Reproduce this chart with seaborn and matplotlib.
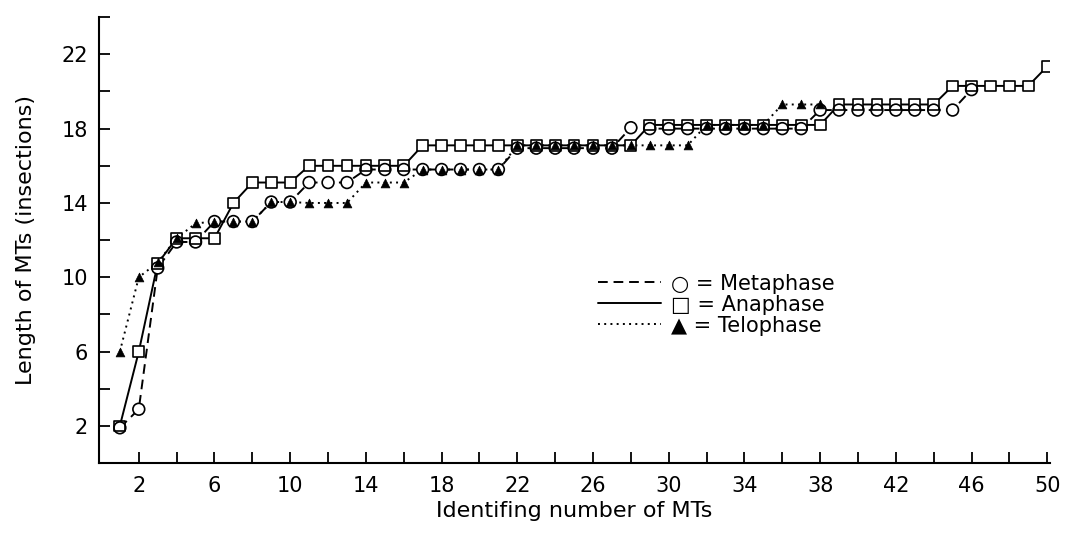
import matplotlib
matplotlib.use("Agg")
import matplotlib.pyplot as plt
import seaborn as sns
import pandas as pd
from matplotlib.lines import Line2D
from matplotlib.ticker import FixedLocator

# ---------------- data ----------------
metaphase = [1.9, 2.9, 10.5, 11.9, 11.9, 13.0, 13.0, 13.0, 14.05, 14.05,
             15.1, 15.1, 15.1, 15.8, 15.8, 15.8, 15.8, 15.8, 15.8, 15.8,
             15.8, 16.95, 16.95, 16.95, 16.95, 16.95, 16.95, 18.05, 18.0, 18.0,
             18.0, 18.0, 18.0, 18.0, 18.0, 18.0, 18.0, 19.0, 19.0, 19.0,
             19.0, 19.0, 19.0, 19.0, 19.0, 20.1]
anaphase = [2.0, 6.0, 10.75, 12.1, 12.1, 12.1, 14.0, 15.1, 15.1, 15.1,
            16.0, 16.0, 16.0, 16.0, 16.0, 16.0, 17.1, 17.1, 17.1, 17.1,
            17.1, 17.1, 17.1, 17.1, 17.1, 17.1, 17.1, 17.1, 18.2, 18.2,
            18.2, 18.2, 18.2, 18.2, 18.2, 18.2, 18.2, 18.2, 19.3, 19.3,
            19.3, 19.3, 19.3, 19.3, 20.3, 20.3, 20.3, 20.3, 20.3, 21.35]
telophase = [6.0, 10.0, 10.8, 12.1, 12.9, 13.0, 13.0, 13.0, 14.05, 14.05,
             14.0, 14.0, 14.0, 15.1, 15.1, 15.1, 15.8, 15.8, 15.8, 15.8,
             15.8, 17.1, 17.1, 17.1, 17.1, 17.1, 17.1, 17.1, 17.1, 17.1,
             17.1, 18.2, 18.2, 18.2, 18.2, 19.3, 19.3, 19.3]

x_ticks_labeled = [2, 6, 10, 14, 18, 22, 26, 30, 34, 38, 42, 46, 50]
x_ticks_minor = [4, 8, 12, 16, 20, 24, 28, 32, 36, 40, 44, 48]
y_ticks_labeled = [2, 6, 10, 14, 18, 22]
y_ticks_minor = [4, 8, 12, 16, 20, 24]

series = {"Metaphase": metaphase, "Anaphase": anaphase, "Telophase": telophase}
frames = []
for name, vals in series.items():
    frames.append(pd.DataFrame({"mt": list(range(1, len(vals) + 1)),
                                "length": vals, "phase": name}))
df = pd.concat(frames, ignore_index=True)

# ---------------- style ----------------
sns.set_theme(style="ticks")
plt.rcParams["font.family"] = ["DejaVu Sans"]

fig = plt.figure(figsize=(10.65, 5.36), dpi=100)
ax = fig.add_axes([0.093, 0.136, 0.893, 0.832])

line_styles = {
    "Metaphase": dict(linestyle=(0, (5, 3)), linewidth=1.4),
    "Anaphase": dict(linestyle="-", linewidth=1.4),
    "Telophase": dict(linestyle=(0, (1, 2.2)), linewidth=1.4),
}
for name in series:
    sub = df[df.phase == name]
    sns.lineplot(data=sub, x="mt", y="length", ax=ax, color="black",
                 estimator=None, sort=False, legend=False, zorder=1,
                 **line_styles[name])

ms = {"Metaphase": ("o", 72), "Anaphase": ("s", 60), "Telophase": ("^", 40)}
# white masks so lines stop at marker edges
for name in ["Metaphase", "Anaphase"]:
    sub = df[df.phase == name]
    m, s = ms[name]
    sns.scatterplot(data=sub, x="mt", y="length", ax=ax, marker=m, s=s,
                    color="white", edgecolor="none", linewidth=0, zorder=2,
                    legend=False)
# open outlines
for name in ["Metaphase", "Anaphase"]:
    sub = df[df.phase == name]
    m, s = ms[name]
    sns.scatterplot(data=sub, x="mt", y="length", ax=ax, marker=m, s=s,
                    facecolor="none", edgecolor="black", linewidth=1.2,
                    zorder=3, legend=False)
sub = df[df.phase == "Telophase"]
sns.scatterplot(data=sub, x="mt", y="length", ax=ax, marker="^",
                s=ms["Telophase"][1], color="black", edgecolor="black",
                linewidth=0.5, zorder=4, legend=False)

# ---------------- axes ----------------
ax.set_xlim(-0.1, 50.15)
ax.set_ylim(0, 24)
sns.despine(ax=ax)
for sp in ["left", "bottom"]:
    ax.spines[sp].set_color("black")
    ax.spines[sp].set_linewidth(1.5)

ax.xaxis.set_major_locator(FixedLocator(x_ticks_labeled))
ax.xaxis.set_minor_locator(FixedLocator(x_ticks_minor))
ax.yaxis.set_major_locator(FixedLocator(y_ticks_labeled))
ax.yaxis.set_minor_locator(FixedLocator(y_ticks_minor))
ax.set_xticklabels([str(v) for v in x_ticks_labeled])
ax.set_yticklabels([str(v) for v in y_ticks_labeled])
ax.tick_params(axis="both", which="both", direction="in", length=8,
               width=1.3, color="black", labelsize=15, labelcolor="black")
ax.tick_params(axis="x", which="major", pad=9)
ax.tick_params(axis="y", which="major", pad=8)

ax.set_xlabel("Identifing number of MTs", fontsize=16, labelpad=4,
              color="black")
ax.set_ylabel("Length of MTs (insections)", fontsize=16, labelpad=18,
              color="black")
ax.grid(False)

handles = [Line2D([], [], color="black", **line_styles[n]) for n in series]
labels = ["○ = Metaphase", "□ = Anaphase", "▲ = Telophase"]
ax.legend(handles, labels, loc="upper left", bbox_to_anchor=(0.525, 0.425),
          frameon=False, fontsize=15, handlelength=3.0, handletextpad=0.5,
          labelspacing=0.05, borderpad=0, borderaxespad=0,
          labelcolor="black")

fig.savefig("out.png", dpi=100, facecolor="white")
